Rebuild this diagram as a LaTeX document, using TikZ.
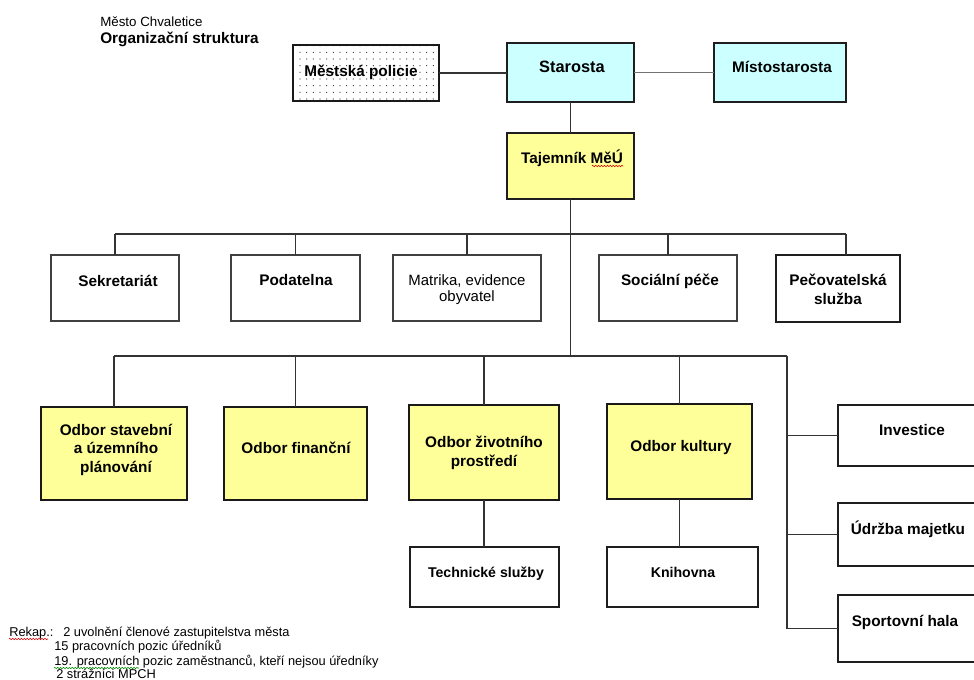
\documentclass[tikz,border=0pt]{standalone}
\usepackage{fontspec}
\setmainfont{Liberation Sans}
\usetikzlibrary{patterns.meta,decorations.pathmorphing}
\definecolor{cyanbox}{HTML}{CCFFFF}
\definecolor{yelbox}{HTML}{FFFF99}
\definecolor{edge}{HTML}{1E1E1E}
\definecolor{conn}{HTML}{333333}
\tikzset{
  box/.style={draw=edge, line width=1.5pt, outer sep=0pt, inner sep=0pt, anchor=north west},
  thinbox/.style={box, line width=1pt, draw=black!75},
  heavybox/.style={box, line width=2pt, draw=black!90},
  wh/.style 2 args={minimum width=#1*0.75pt, minimum height=#2*0.75pt},
  lbl/.style={anchor=base, inner sep=0pt, font=\bfseries\fontsize{11.5}{13}\selectfont},
  lblsm/.style={lbl, font=\bfseries\fontsize{10.6}{12}\selectfont},
  lblreg/.style={lbl, font=\fontsize{11.2}{13}\selectfont},
  note/.style={anchor=base west, inner sep=0pt, font=\fontsize{9.6}{11}\selectfont},
  con/.style={draw=conn, line width=0.85pt},
  wavy/.style={line width=0.4pt, decorate, decoration={zigzag, amplitude=0.55pt, segment length=2.2pt}}
}
\begin{document}
\begin{tikzpicture}[x=0.75pt, y=-0.75pt]
\clip (0,0) rectangle (974,679);
\useasboundingbox (0,0) rectangle (974,679);
\fill[white] (0,0) rectangle (974,679);

% header
\node[note, font=\fontsize{10}{12}\selectfont] (hdr1) at (100,26) {Město Chvaletice};
\node[note, font=\bfseries\fontsize{11.5}{13}\selectfont] (hdr2) at (100,43) {Organizační struktura};

% top row
\node[heavybox, wh={146}{56}, pattern={Dots[distance=5pt, radius=0.45pt]}, pattern color=black!80] (pol) at (293,45) {};
\node[box, wh={127}{59}, fill=cyanbox] (sta) at (507,43) {};
\node[box, wh={132}{59}, fill=cyanbox] (mis) at (714,43) {};
\node[box, wh={127}{66}, fill=yelbox] (taj) at (507,133) {};

\node[lbl] (polT) at (361,76) {Městská policie};
\node[lbl, font=\bfseries\fontsize{12.3}{14}\selectfont] (staT) at (572,72) {Starosta};
\node[lbl] (misT) at (782,72) {Místostarosta};
\node[lbl] (tajT) at (572,163) {Tajemník MěÚ};
\draw[red!85!black, wavy] (592,166) -- (623,166);

% second row
\node[thinbox, wh={128}{66}] (sek) at (51,255) {};
\node[thinbox, wh={129}{66}] (pod) at (231,255) {};
\node[thinbox, wh={148}{66}] (mat) at (393,255) {};
\node[thinbox, wh={138}{66}] (soc) at (599,255) {};
\node[box, wh={124}{67}] (pec) at (776,255) {};

\node[lbl] (sekT) at (118,286) {Sekretariát};
\node[lbl] (podT) at (296,285) {Podatelna};
\node[lblreg] (matT1) at (467,285) {Matrika, evidence};
\node[lblreg] (matT2) at (467,301) {obyvatel};
\node[lbl] (socT) at (670,285) {Sociální péče};
\node[lbl] (pecT1) at (838,285) {Pečovatelská};
\node[lbl] (pecT2) at (838,304) {služba};

% third row
\node[heavybox, wh={146}{93}, fill=yelbox] (ost) at (41,407) {};
\node[heavybox, wh={143}{93}, fill=yelbox] (ofi) at (224,407) {};
\node[heavybox, wh={150}{95}, fill=yelbox] (ozp) at (409,405) {};
\node[heavybox, wh={145}{95}, fill=yelbox] (oku) at (607,404) {};

\node[lbl] (ostT1) at (116,435) {Odbor stavební};
\node[lbl] (ostT2) at (116,453) {a územního};
\node[lbl] (ostT3) at (116,472) {plánování};
\node[lbl] (ofiT) at (296,453) {Odbor finanční};
\node[lbl] (ozpT1) at (484,447) {Odbor životního};
\node[lbl] (ozpT2) at (484,466) {prostředí};
\node[lbl] (okuT) at (681,451) {Odbor kultury};

% fourth row
\node[box, wh={149}{60}] (tec) at (410,547) {};
\node[box, wh={151}{60}] (kni) at (607,547) {};
\node[lblsm] (tecT) at (486,577) {Technické služby};
\node[lblsm] (kniT) at (683,577) {Knihovna};

% right column
\node[box, wh={150}{61}] (inv) at (838,405) {};
\node[box, wh={150}{63}] (udr) at (838,503) {};
\node[box, wh={150}{67}] (spo) at (838,595) {};
\node[lbl] (invT) at (912,435) {Investice};
\node[lbl] (udrT) at (908,534) {Údržba majetku};
\node[lbl] (spoT) at (905,626) {Sportovní hala};

% connectors
\draw[con] (pol.east) -- (pol.east -| sta.west);
\draw[draw=black!55, line width=0.8pt] (sta.east) -- (sta.east -| mis.west);
\draw[con] (sta.south) -- (taj.north);

\coordinate (b2L) at (115,234);
\coordinate (b2R) at (846,234);
\coordinate (b3L) at (114,356);
\coordinate (b3R) at (787,356);

\draw[con] (taj.south) -- (taj.south |- b3L);
\draw[con] (b2L) -- (b2R);
\draw[con] (b2L) -- (sek.north);
\draw[con] (pod.north |- b2L) -- (pod.north);
\draw[con] (mat.north |- b2L) -- (mat.north);
\draw[con] (soc.north |- b2L) -- (soc.north);
\draw[con] (b2R) -- (b2R |- pec.north);

\draw[con] (b3L) -- (b3R);
\draw[con] (b3L) -- (ost.north);
\draw[con] (ofi.north |- b3L) -- (ofi.north);
\draw[con] (ozp.north |- b3L) -- (ozp.north);
\draw[con] (oku.north |- b3L) -- (oku.north);
\draw[con] (b3R) -- (b3R |- spo.west);
\draw[con] (b3R |- inv.west) -- (inv.west);
\draw[con] (b3R |- udr.west) -- (udr.west);
\draw[con] (b3R |- spo.west) -- (spo.west);

\draw[con] (ozp.south) -- (ozp.south |- tec.north);
\draw[con] (oku.south) -- (oku.south |- kni.north);

% recap notes
\node[note] (rk0) at (9,636) {Rekap.:};
\node[note] (rk1) at (63,636) {2 uvolnění členové zastupitelstva města};
\node[note] (rk2) at (54,650) {15 pracovních pozic úředníků};
\node[note] (rk3) at (54,665) {19. pracovních pozic zaměstnanců, kteří nejsou úředníky};
\node[note] (rk4) at (56,678) {2 strážníci MPCH};
\draw[red!85!black, wavy] (9,639) -- (48,639);
\draw[green!55!black, wavy] (54,668) -- (139,668);
\end{tikzpicture}
\end{document}
